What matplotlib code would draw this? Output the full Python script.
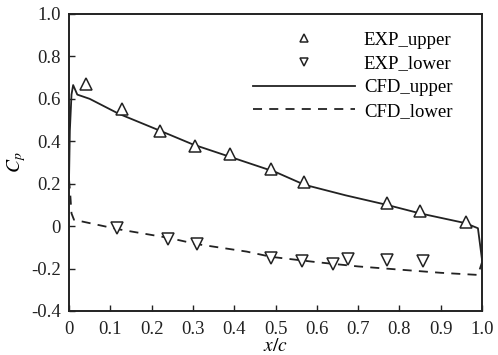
import numpy as np
import matplotlib
matplotlib.use("Agg")
import matplotlib.pyplot as plt
from matplotlib.ticker import FixedLocator, FixedFormatter

# ── DATOS ──────────────────────────────────────────────────
# Experimento, extradós / intradós
exp_up_x = [0.041, 0.128, 0.22, 0.305, 0.39, 0.49, 0.57, 0.77, 0.85, 0.96]
exp_up_cp = [0.67, 0.55, 0.45, 0.38, 0.34, 0.27, 0.21, 0.11, 0.07, 0.02]

exp_lo_x = [0.117, 0.24, 0.31, 0.49, 0.565, 0.64, 0.676, 0.77, 0.857]
exp_lo_cp = [-0.01, -0.06, -0.085, -0.15, -0.165, -0.18, -0.155, -0.16, -0.165]

# CFD, extradós / intradós
cfd_up_x = [0.0, 0.002, 0.006, 0.01, 0.02, 0.05, 0.12, 0.22, 0.30, 0.40, 0.50,
            0.57, 0.67, 0.77, 0.85, 0.96, 0.99, 1.0]
cfd_up_cp = [0.22, 0.45, 0.62, 0.665, 0.62, 0.60, 0.53, 0.45, 0.385, 0.32, 0.255,
             0.195, 0.145, 0.10, 0.06, 0.014, -0.01, -0.16]

cfd_lo_x = [0.0, 0.003, 0.006, 0.012, 0.12, 0.24, 0.31, 0.43, 0.49, 0.60, 0.70,
            0.80, 0.90, 0.99, 1.0]
cfd_lo_cp = [0.22, 0.15, 0.06, 0.03, -0.015, -0.055, -0.085, -0.12, -0.145, -0.17, -0.19,
             -0.205, -0.22, -0.23, -0.17]

x_ticks = [0, 0.1, 0.2, 0.3, 0.4, 0.5, 0.6, 0.7, 0.8, 0.9, 1.0]
x_tick_labels = ["0", "0.1", "0.2", "0.3", "0.4", "0.5", "0.6", "0.7", "0.8", "0.9", "1.0"]
y_ticks = [-0.4, -0.2, 0, 0.2, 0.4, 0.6, 0.8, 1.0]
y_tick_labels = ["-0.4", "-0.2", "0", "0.2", "0.4", "0.6", "0.8", "1.0"]
# ───────────────────────────────────────────────────────────

plt.rcParams["font.family"] = ["Liberation Serif", "DejaVu Serif"]
plt.rcParams["mathtext.fontset"] = "stix"

fig = plt.figure(figsize=(4.98, 3.55), dpi=100)
ax = fig.add_axes([0.1386, 0.124, 0.8294, 0.8366])

gris = "#222222"
ax.plot(exp_up_x, exp_up_cp, linestyle="none", marker="^", ms=8, mfc="white",
        mec=gris, mew=1.1, label="EXP_upper", zorder=3)
ax.plot(exp_lo_x, exp_lo_cp, linestyle="none", marker="v", ms=8, mfc="white",
        mec=gris, mew=1.1, label="EXP_lower", zorder=3)
ax.plot(cfd_up_x, cfd_up_cp, "-", color=gris, lw=1.3, label="CFD_upper")
ax.plot(cfd_lo_x, cfd_lo_cp, "--", color=gris, lw=1.3, dashes=(5, 4), label="CFD_lower")

ax.set_xlim(0, 1.0)
ax.set_ylim(-0.4, 1.0)
ax.xaxis.set_major_locator(FixedLocator(x_ticks))
ax.xaxis.set_major_formatter(FixedFormatter(x_tick_labels))
ax.yaxis.set_major_locator(FixedLocator(y_ticks))
ax.yaxis.set_major_formatter(FixedFormatter(y_tick_labels))
ax.tick_params(direction="in", length=4, width=1.0, labelsize=13.5, colors=gris,
               top=False, right=False)
ax.tick_params(axis="x", pad=7)
ax.tick_params(axis="y", pad=6)
for s in ax.spines.values():
    s.set_linewidth(1.4)
    s.set_color(gris)

ax.set_xlabel("$x/c$", fontsize=14, labelpad=0)
ax.set_ylabel("$C_p$", fontsize=14, labelpad=2)

ax.legend(loc="upper right", bbox_to_anchor=(0.96, 0.985), frameon=False, fontsize=13.5,
          handlelength=5.4, handletextpad=0.5, labelspacing=0.35, markerscale=0.75,
          borderaxespad=0.3)

fig.savefig("out.png", dpi=100)
